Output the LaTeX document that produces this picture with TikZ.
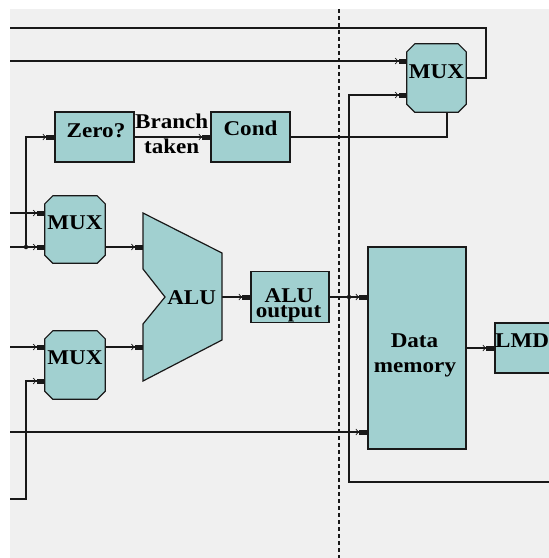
\documentclass[tikz,border=0pt]{standalone}
\usepackage{fontspec}
\setmainfont{Liberation Serif}[FakeStretch=1.1]
\usetikzlibrary{arrows.meta,calc}
\definecolor{unitfill}{RGB}{161,208,208}
\definecolor{panel}{RGB}{240,240,240}
\definecolor{wirecol}{RGB}{25,25,25}
\begin{document}
\begin{tikzpicture}[x=1pt,y=-1pt,
  font=\bfseries\fontsize{21}{21}\selectfont,
  unit/.style={rectangle, draw=wirecol, fill=unitfill, line width=1.2pt, inner sep=0pt},
  ghost/.style={rectangle, draw=none, inner sep=0pt},
  wire/.style={draw=wirecol, line width=1.2pt},
  feed/.style={wire, -{Straight Barb[length=2.5pt,width=6pt,line width=.7pt,sep=.6pt] Rectangle[length=8pt,width=5pt]}},
  lbl/.style={inner sep=0pt, anchor=base, text=black},
  jdot/.style={circle, fill=wirecol, inner sep=0pt, minimum size=4.5pt},
  separator/.style={draw=wirecol, line width=2.2pt, dash pattern=on 4pt off 3pt}]

\useasboundingbox (0,0) rectangle (549,558);
\clip (0,0) rectangle (549,558);
\fill[panel] (10,9) rectangle (560,570);

% chamfered multiplexer outline around an invisible named node
\newcommand\muxoutline[1]{%
  \filldraw[fill=unitfill, draw=wirecol, line width=1.2pt]
    ([xshift=8pt]#1.north west) -- ([xshift=-8pt]#1.north east)
    -- ([yshift=-8pt]#1.north east) -- ([yshift=8pt]#1.south east)
    -- ([xshift=-8pt]#1.south east) -- ([xshift=8pt]#1.south west)
    -- ([yshift=8pt]#1.south west) -- ([yshift=-8pt]#1.north west) -- cycle;}

% pipeline separator
\coordinate (sepTop) at (339,9);
\coordinate (sepBot) at (339,560);
\draw[separator] (sepTop) -- (sepBot);

% units
\node[ghost, minimum width=59pt, minimum height=68pt] (muxT) at (436.5,78) {};
\node[ghost, minimum width=60pt, minimum height=67pt] (mux1) at (75,229.5) {};
\node[ghost, minimum width=60pt, minimum height=68pt] (mux2) at (75,365) {};
\node[ghost, minimum width=79pt, minimum height=168pt] (alu) at (182.5,297) {};
\coordinate (aluA) at (143,247);
\coordinate (aluB) at (143,347);
\coordinate (aluO) at (222,297);

% wires
\coordinate (topR) at (486,28);
\coordinate (topL) at (10,28);
\draw[wire] (muxT.east) -| (topR) -- (topL);

\coordinate (inB) at (10,61);
\draw[feed] (inB) -- (inB -| muxT.west);

\coordinate (selB) at (447,112);
\node[unit, minimum width=79pt, minimum height=50pt] (zero) at (94.5,137) {};
\node[unit, minimum width=79pt, minimum height=50pt] (cond) at (250.5,137) {};
\draw[wire] (cond.east) -| (selB);
\draw[feed] (zero.east) -- (cond.west);

\coordinate (inC) at (10,213);
\coordinate (inD) at (10,247);
\node[jdot] (jA) at (26,247) {};
\draw[feed] (inC) -- (inC -| mux1.west);
\draw[feed] (inD) -- (inD -| mux1.west);
\draw[feed] (jA.center) |- (zero.west);

\coordinate (inE) at (10,347);
\coordinate (inF) at (10,499);
\coordinate (inFk) at (26,381);
\draw[feed] (inE) -- (inE -| mux2.west);
\draw[feed] (inF) -| (inFk) -- (inFk -| mux2.west);

\draw[feed] (mux1.east |- aluA) -- (aluA);
\draw[feed] (mux2.east |- aluB) -- (aluB);

\node[unit, minimum width=78pt, minimum height=51pt] (aluout) at (290,297) {};
\node[unit, minimum width=98pt, minimum height=202pt] (dmem) at (417,348) {};
\node[unit, minimum width=70pt, minimum height=50pt] (lmd) at (530,348) {};

\draw[feed] (aluO) -- (aluO -| aluout.west);

\node[jdot] (jB) at (349,297) {};
\coordinate (fwdTop) at (349,95);
\coordinate (fwdBot) at (349,482);
\coordinate (fwdEnd) at (549,482);
\draw[feed] (aluout.east) -- (aluout.east -| dmem.west);
\draw[feed] (jB.center) -- (fwdTop) -- (fwdTop -| muxT.west);
\draw[wire] (jB.center) -- (fwdBot) -- (fwdEnd);

\coordinate (inG) at (10,432);
\draw[feed] (inG) -- (inG -| dmem.west);
\draw[feed] (lmd.west -| dmem.east) -- (lmd.west);

% multiplexers and ALU bodies
\muxoutline{muxT}
\muxoutline{mux1}
\muxoutline{mux2}
\filldraw[fill=unitfill, draw=wirecol, line width=1.2pt]
  (143,213) -- (222,253) -- (222,340) -- (143,381) -- (143,324)
  -- (165,297) -- (143,269) -- cycle;

% labels
\node[lbl] (tMuxT) at (436.5,78) {MUX};
\node[lbl] (tMux1) at (75,229) {MUX};
\node[lbl] (tMux2) at (75,364) {MUX};
\node[lbl] (tZero) at (96,137) {Zero?};
\node[lbl] (tCond) at (250.5,135) {Cond};
\node[lbl] (tBranch) at (171.7,128) {Branch};
\node[lbl] (tTaken) at (171.7,153) {taken};
\node[lbl] (tAlu) at (191.7,304) {ALU};
\node[lbl] (tAluOut1) at (289,302.5) {ALU};
\node[lbl] (tAluOut2) at (288.5,317.5) {output};
\node[lbl] (tData) at (414.5,347) {Data};
\node[lbl] (tMemory) at (415,372) {memory};
\node[lbl, anchor=base west] (tLmd) at (495,347) {LMD};
\end{tikzpicture}
\end{document}
